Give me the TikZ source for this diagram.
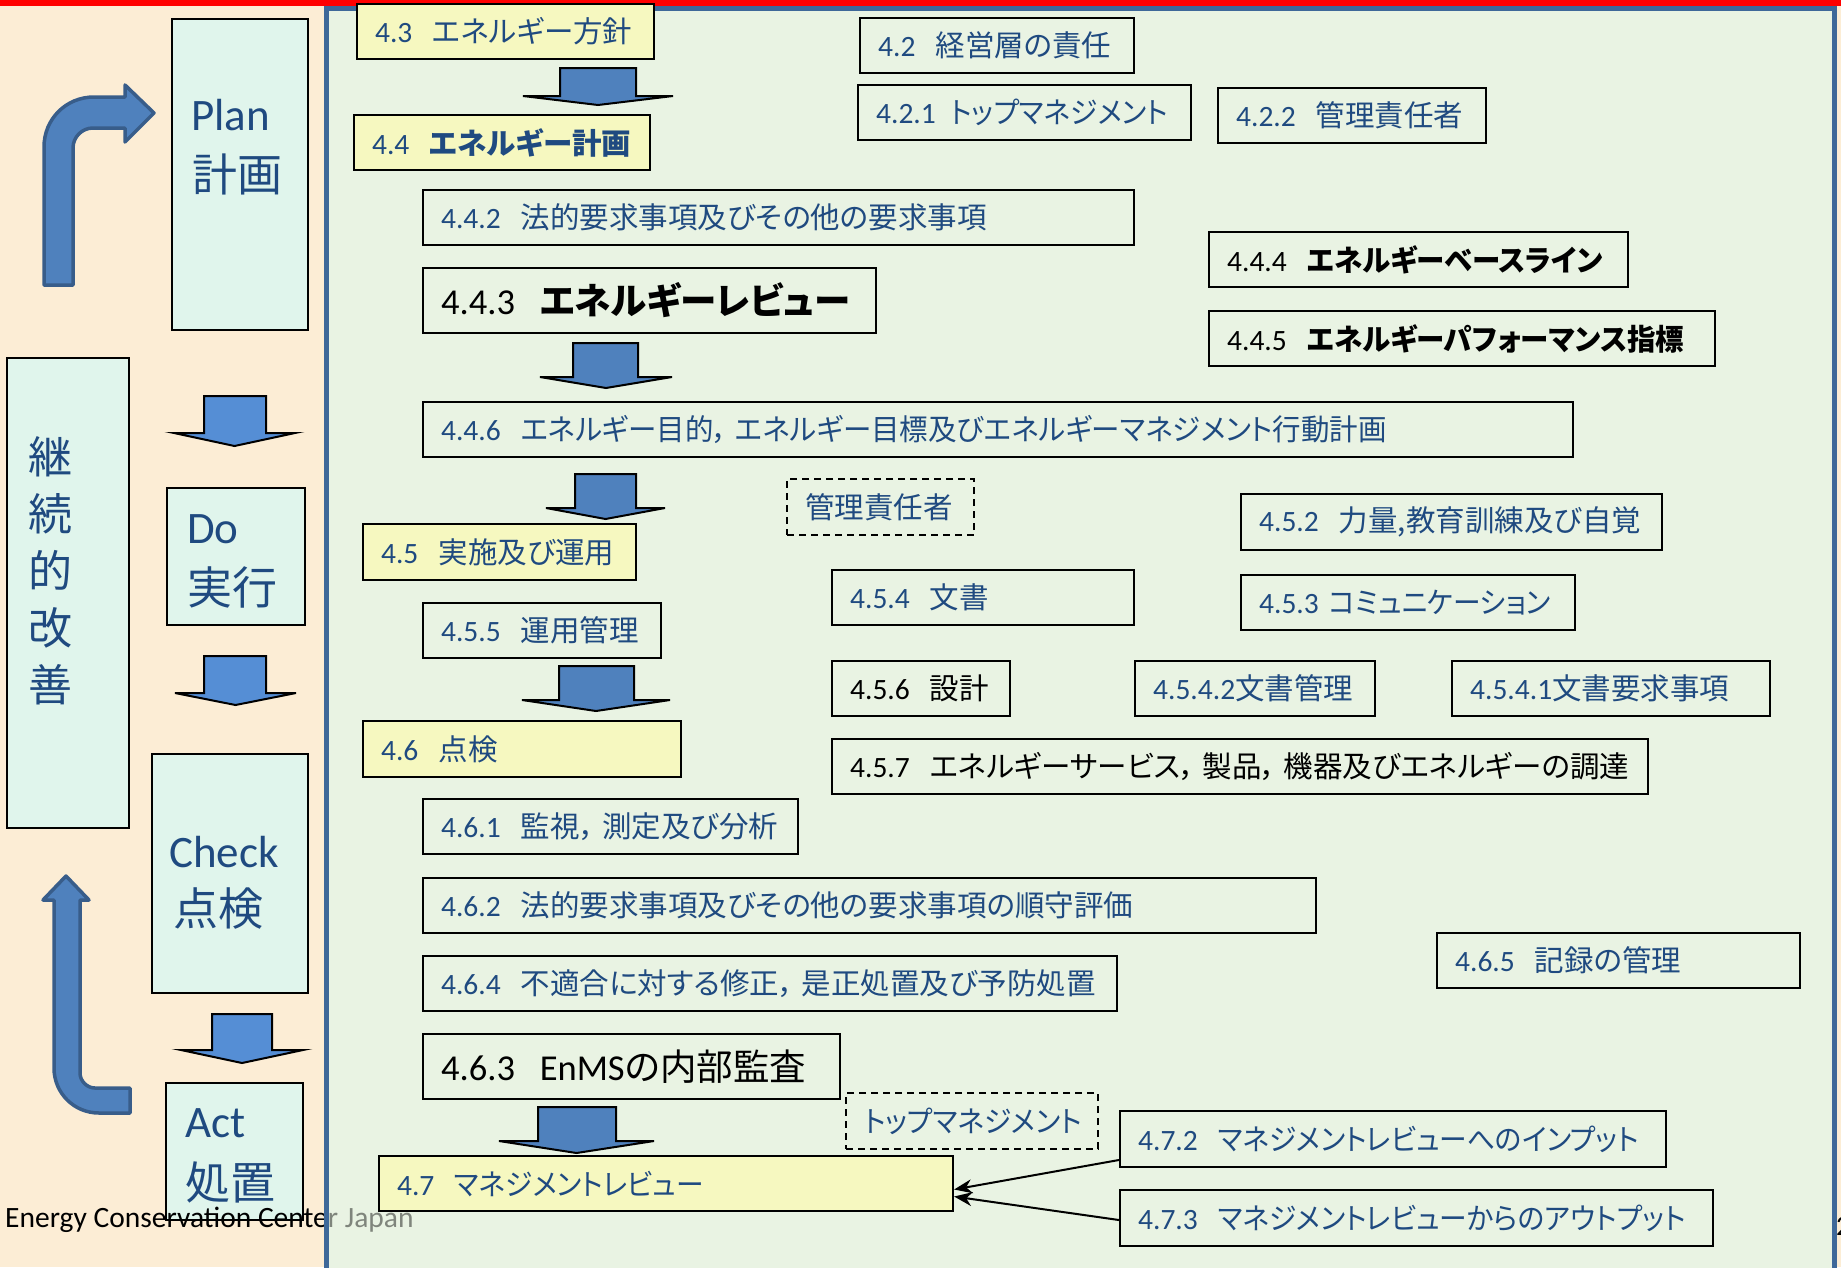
\documentclass[tikz,border=0pt]{standalone}
\usepackage{fontspec}
\setmainfont{Carlito}
\newfontfamily\jp[RawFeature={+palt}]{Noto Sans CJK JP}
\newfontfamily\jpa[RawFeature={+palt},FakeStretch=0.94]{Noto Sans CJK JP}
\newfontfamily\jpb[RawFeature={+palt},FakeStretch=0.965]{Noto Sans CJK JP}
\usetikzlibrary{arrows.meta,fit}
\definecolor{peach}{HTML}{FCEDD5}
\definecolor{framefill}{HTML}{E9F3E3}
\definecolor{frameline}{HTML}{3E6899}
\definecolor{pdcafill}{HTML}{E0F5EC}
\definecolor{yel}{HTML}{F6F8C0}
\definecolor{txtblue}{HTML}{1F4A80}
\definecolor{arrfill}{HTML}{4F81BD}
\definecolor{larrfill}{HTML}{558ED5}
\definecolor{arrline}{HTML}{385D8A}
\newcommand\nm[1]{#1\hspace{0.68em}}
\newcommand\cm{，\hspace{0.25em}}
\newcommand\bx[6]{\node[#1,fit={#3 #4}] (#2) {};
  \node[#5] (#2t) at ([xshift=19pt]#2.west) {#6};}
\newcommand\dnarrow[8][]{\draw[blockarrow,#1] (#2,#4) -- (#3,#4) -- (#3,#5) -- (#7,#5) -- ({(#6+#7)/2},#8) -- (#6,#5) -- (#2,#5) -- cycle;}
\begin{document}
\begin{tikzpicture}[x=1pt,y=-1pt,
  box/.style={draw=black, line width=2.2pt, inner sep=0pt},
  ybox/.style={box, fill=yel},
  dbox/.style={draw=black, line width=2pt, dash pattern=on 7pt off 5pt, inner sep=0pt},
  lbl/.style={anchor=west, inner sep=0pt, text=txtblue, font=\fontsize{29.5}{34}\selectfont},
  lblk/.style={lbl, text=black},
  big/.style={lbl, text=black, font=\fontsize{36.5}{42}\selectfont},
  pdca/.style={draw=black, line width=2pt, fill=pdcafill, inner sep=0pt},
  ptxt/.style={anchor=base west, inner sep=0pt, text=txtblue, font=\fontsize{45}{50}\selectfont},
  blockarrow/.style={fill=arrfill, draw=black, line width=2pt, line join=miter},
  bentarrow/.style={fill=arrfill, draw=arrline, line width=3.5pt, line join=round},
  link/.style={draw=black, line width=2pt, -{Stealth[length=18pt,width=14pt]}}]
\useasboundingbox (0,0) rectangle (1841,1267);
% backgrounds
\fill[peach] (0,0) rectangle (1841,1267);
\fill[framefill] (326,8) rectangle (1834,1290);

% PDCA column
\node[pdca, fit={(172,19) (308,330)}] (plan) {};
\node[ptxt] (plant) at (191,130) {Plan};
\node[ptxt] (planj) at (192,191) {\jp 計画};
\node[pdca, fit={(167,488) (305,625)}] (do) {};
\node[ptxt] (dot) at (187,543) {Do};
\node[ptxt] (doj) at (187,604) {\jp 実行};
\node[pdca, fit={(152,754) (308,993)}] (check) {};
\node[ptxt] (checkt) at (169,867) {Check};
\node[ptxt] (checkj) at (173,925) {\jp 点検};
\node[pdca, fit={(166,1083) (303,1220)}] (act) {};
\node[ptxt] (actt) at (185,1137) {Act};
\node[ptxt] (actj) at (185,1199) {\jp 処置};
\node[pdca, fit={(7,358) (129,828)}] (kaizen) {};
\node[inner sep=0pt, text=txtblue, align=center, font=\fontsize{44}{57}\selectfont\jp] (kaizent) at (50,571) {継\\続\\的\\改\\善};

\dnarrow[fill=larrfill]{204}{266}{396}{433}{174}{295}{446}
\dnarrow[fill=larrfill]{204}{266}{656}{693}{175}{296}{705}
\dnarrow[fill=larrfill]{212}{272}{1014}{1050}{181}{303}{1063}

% bent arrows
\draw[bentarrow] (44,285) -- (44,147) .. controls (44,119) and (66,97) .. (94,97) -- (125,97) -- (125,85) -- (154,113) -- (125,142) -- (125,128) -- (93,128) .. controls (82,128) and (73,137) .. (73,148) -- (73,285) -- cycle;
\draw[bentarrow] (80,900) -- (89,900) -- (66,876) -- (43,900) -- (54,900) -- (54,1068) .. controls (54,1093) and (74,1113) .. (99,1113) -- (130,1113) -- (130,1088) -- (95,1088) .. controls (87,1088) and (80,1081) .. (80,1073) -- cycle;

% footer
\node[anchor=base west, inner sep=0pt, font=\fontsize{29.5}{32}\selectfont] (footer) at (5,1227) {Energy Conservation Center Japan};
\fill[framefill, opacity=0.55] (329,1195) rectangle (470,1245);

% frame border and red bar
\draw[frameline, line width=5pt] (326,1290) -- (326,8) -- (1834,8) -- (1834,1290);
\fill[red] (0,0) rectangle (1841,6);
\node[anchor=base west, inner sep=0pt, font=\fontsize{28}{32}\selectfont] (pageno) at (1836,1235) {2};

% boxes
\bx{ybox}{b43}{(357,4)}{(654,59)}{lbl}{\nm{4.3}\jp エネルギー方針}
\bx{ybox}{b44}{(354,115)}{(650,170)}{lbl}{\nm{4.4}\jp\bfseries エネルギー計画}
\bx{box}{b442}{(423,190)}{(1134,245)}{lbl}{\nm{4.4.2}\jp 法的要求事項及びその他の要求事項}
\bx{box}{b443}{(423,268)}{(876,333)}{big}{\nm{4.4.3}\jp\bfseries エネルギーレビュー}
\bx{box}{b42}{(860,18)}{(1134,73)}{lbl}{\nm{4.2}\jp 経営層の責任}
\bx{box}{b421}{(858,85)}{(1191,140)}{lbl}{4.2.1\hspace{0.5em}{\jpa トップマネジメント}}
\bx{box}{b422}{(1218,88)}{(1486,143)}{lbl}{\nm{4.2.2}\jp 管理責任者}
\bx{box}{b444}{(1209,232)}{(1628,287)}{lblk}{\nm{4.4.4}\jpb\bfseries エネルギーベースライン}
\bx{box}{b445}{(1209,311)}{(1715,366)}{lblk}{\nm{4.4.5}\jpb\bfseries エネルギーパフォーマンス指標}
\bx{box}{b446}{(423,402)}{(1573,457)}{lbl}{\nm{4.4.6}\jpb エネルギー目的\cm エネルギー目標及びエネルギーマネジメント行動計画}
\bx{dbox}{d1}{(787,479)}{(974,535)}{lbl}{\jp 管理責任者}
\bx{box}{b452}{(1241,494)}{(1662,550)}{lbl}{\nm{4.5.2}\jp 力量,教育訓練及び自覚}
\bx{ybox}{b45}{(363,524)}{(636,580)}{lbl}{\nm{4.5}\jp 実施及び運用}
\bx{box}{b454}{(832,570)}{(1134,625)}{lbl}{\nm{4.5.4}\jp 文書}
\bx{box}{b453}{(1241,575)}{(1575,630)}{lbl}{4.5.3\hspace{0.35em}{\jpa コミュニケーション}}
\bx{box}{b455}{(423,603)}{(661,658)}{lbl}{\nm{4.5.5}\jp 運用管理}
\bx{box}{b456}{(832,661)}{(1010,716)}{lblk}{\nm{4.5.6}\jp 設計}
\bx{box}{b4542}{(1135,661)}{(1375,716)}{lbl}{4.5.4.2{\jp 文書管理}}
\bx{box}{b4541}{(1452,661)}{(1770,716)}{lbl}{4.5.4.1{\jp 文書要求事項}}
\bx{ybox}{b46}{(363,721)}{(681,777)}{lbl}{\nm{4.6}\jp 点検}
\bx{box}{b457}{(832,739)}{(1648,794)}{lblk}{\nm{4.5.7}\jp エネルギーサービス\cm 製品\cm 機器及びエネルギーの調達}
\bx{box}{b461}{(423,799)}{(798,854)}{lbl}{\nm{4.6.1}\jp 監視\cm 測定及び分析}
\bx{box}{b462}{(423,878)}{(1316,933)}{lbl}{\nm{4.6.2}\jp 法的要求事項及びその他の要求事項の順守評価}
\bx{box}{b465}{(1437,933)}{(1800,988)}{lbl}{\nm{4.6.5}\jp 記録の管理}
\bx{box}{b464}{(423,956)}{(1117,1011)}{lbl}{\nm{4.6.4}\jp 不適合に対する修正\cm 是正処置及び予防処置}
\bx{box}{b463}{(423,1034)}{(840,1099)}{big}{\nm{4.6.3}EnMS{\jp の内部監査}}
\bx{dbox}{d2}{(846,1093)}{(1098,1149)}{lbl}{\jpa トップマネジメント}
\bx{box}{b472}{(1120,1111)}{(1666,1167)}{lbl}{\nm{4.7.2}\jpa マネジメントレビューへのインプット}
\bx{ybox}{b47}{(379,1156)}{(953,1211)}{lbl}{\nm{4.7}\jpa マネジメントレビュー}
\bx{box}{b473}{(1120,1190)}{(1713,1246)}{lbl}{\nm{4.7.3}\jpa マネジメントレビューからのアウトプット}

% block arrows in frame
\dnarrow{560}{636}{68}{96}{523}{673}{105}
\dnarrow{573}{638}{343}{377}{540}{672}{388}
\dnarrow{575}{636}{474}{508}{546}{665}{519}
\dnarrow{559}{634}{666}{700}{522}{670}{711}
\dnarrow{538}{616}{1107}{1141}{499}{654}{1153}

% connectors
\draw[link] ([yshift=-21pt]b472.west) -- ([yshift=-6pt]b47.east);
\draw[link] ([yshift=-2pt]b473.west) -- ([yshift=-13pt]b47.east);
\end{tikzpicture}
\end{document}
